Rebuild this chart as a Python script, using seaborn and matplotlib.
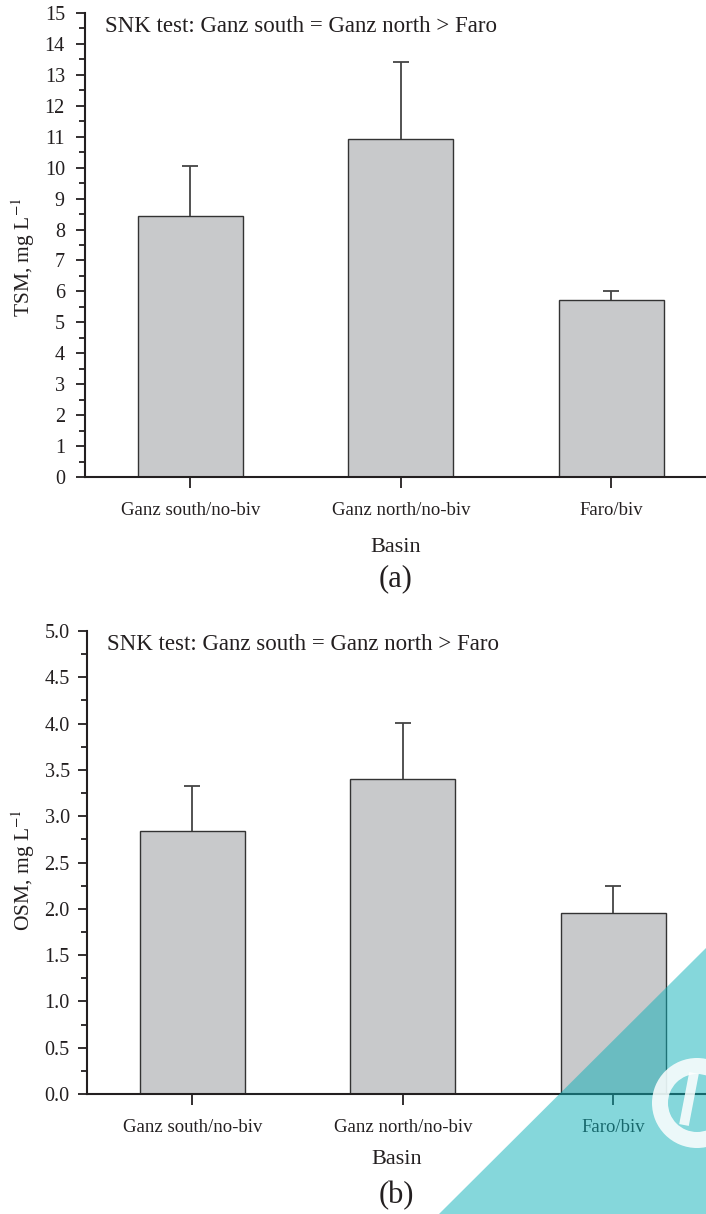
import matplotlib
matplotlib.use('Agg')
import numpy as np
import pandas as pd
import matplotlib.pyplot as plt
import matplotlib.patches as mpatches
from matplotlib.lines import Line2D
from matplotlib.ticker import MultipleLocator
import seaborn as sns

basins = ['Ganz south/no-biv', 'Ganz north/no-biv', 'Faro/biv']

tsm_mean = [8.45, 10.93, 5.73]
tsm_err = [1.60, 2.50, 0.28]

osm_mean = [2.84, 3.40, 1.96]
osm_err = [0.49, 0.61, 0.29]

snk_text = 'SNK test: Ganz south = Ganz north > Faro'

BAR_COLOR = '#c8c9cb'
EDGE_COLOR = '#333333'
TEXT_COLOR = '#231f20'

sns.set_style('ticks')
plt.rcParams['font.family'] = ['Liberation Serif', 'DejaVu Serif']
plt.rcParams['mathtext.fontset'] = 'stix'
plt.rcParams['text.color'] = TEXT_COLOR
plt.rcParams['axes.labelcolor'] = TEXT_COLOR
plt.rcParams['xtick.color'] = TEXT_COLOR
plt.rcParams['ytick.color'] = TEXT_COLOR
plt.rcParams['axes.edgecolor'] = TEXT_COLOR

W, H = 706, 1214
fig = plt.figure(figsize=(W / 100, H / 100), dpi=100)


def px_axes(left, top, right, bottom):
    # axes rectangle from pixel coordinates (origin top left)
    return fig.add_axes([left / W, 1 - bottom / H, (right - left) / W, (bottom - top) / H])


def draw_panel(ax, means, errs, ylim, major, minor, ylabel, tag, xlim, basin_y, tag_y, ypad):
    df = pd.DataFrame({'basin': basins, 'value': means})
    sns.barplot(data=df, x='basin', y='value', color=BAR_COLOR, width=0.5,
                edgecolor=EDGE_COLOR, linewidth=1.0, saturation=1, errorbar=None, ax=ax)
    _, caps, _ = ax.errorbar(range(len(basins)), means, yerr=[np.zeros(len(errs)), errs],
                             fmt='none', ecolor='#444444', elinewidth=1.3,
                             capsize=6, capthick=1.3)
    caps[0].set_visible(False)  # only the upper whisker is shown
    ax.set_xlim(*xlim)
    ax.set_ylim(*ylim)
    ax.yaxis.set_major_locator(MultipleLocator(major))
    ax.yaxis.set_minor_locator(MultipleLocator(minor))
    sns.despine(ax=ax)
    for s in ['left', 'bottom']:
        ax.spines[s].set_linewidth(1.5)
        ax.spines[s].set_clip_on(False)
    ax.tick_params(axis='y', which='major', length=6.5, width=1.3, labelsize=14.5, pad=ypad)
    ax.tick_params(axis='y', which='minor', length=4, width=1.3)
    ax.tick_params(axis='x', which='major', length=8, width=1.3, labelsize=13.5, pad=10)
    ax.set_xlabel('')
    ax.set_ylabel(ylabel, fontsize=15.5)
    ax.text(0.032, 0.97, snk_text, transform=ax.transAxes, fontsize=16.5,
            ha='left', va='center')
    ax.text(0.5, basin_y, 'Basin', transform=ax.transAxes, fontsize=16,
            ha='center', va='center')
    ax.text(0.5, tag_y, tag, transform=ax.transAxes, fontsize=22,
            ha='center', va='center')
    return ax


ax1 = px_axes(85, 13, 706, 477)
draw_panel(ax1, tsm_mean, tsm_err, (0, 15), 1, 0.5, r'TSM, mg L$^{-1}$', '(a)',
           (-0.5, 2.45), -0.151, -0.22, 8)
ax1.yaxis.set_label_coords(-0.078, 0.474)

ax2 = px_axes(87, 631, 706, 1094)
draw_panel(ax2, osm_mean, osm_err, (0, 5), 0.5, 0.25, r'OSM, mg L$^{-1}$', '(b)',
           (-0.5, 2.44), -0.141, -0.22, 6)
ax2.yaxis.set_label_coords(-0.081, 0.484)

# corner badge overlaid on the lower right of the page
tri = mpatches.Polygon([[439 / W, 0], [1, (H - 948) / H], [1, 0]], closed=True,
                       transform=fig.transFigure, facecolor='#0db1b9', alpha=0.5,
                       edgecolor='none', zorder=10)
fig.patches.append(tri)
ring = mpatches.Wedge((6.97, (H - 1103) / 100), 0.45, 0, 360, width=0.16,
                      transform=fig.dpi_scale_trans, facecolor='white', alpha=0.85,
                      edgecolor='none', zorder=11)
fig.patches.append(ring)
stroke = Line2D([6.94, 6.84], [(H - 1073) / 100, (H - 1125) / 100], linewidth=7,
                color='white', alpha=0.85, solid_capstyle='butt',
                transform=fig.dpi_scale_trans, zorder=11)
fig.lines.append(stroke)

fig.savefig('out.png', dpi=100)
